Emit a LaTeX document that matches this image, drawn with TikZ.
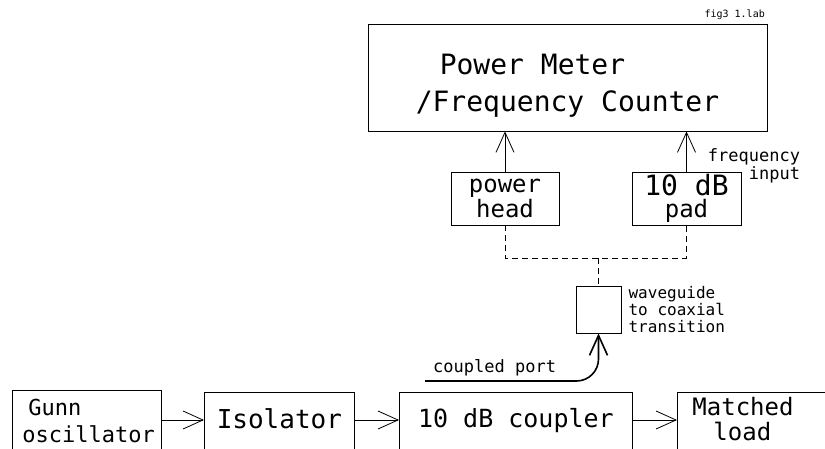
\documentclass[tikz,border=0pt]{standalone}
\usepackage{fontspec}
\setmainfont{DejaVu Sans Mono}
\usetikzlibrary{arrows.meta, positioning}
\newcommand{\sz}[2]{\fontsize{#1}{#2}\selectfont}
\newcommand{\deep}{\rule[-40pt]{0pt}{40pt}}
\tikzset{
  unit/.style={draw, line width=0.8pt, inner sep=0pt, align=center},
  arr/.style={line width=0.8pt, -{Straight Barb[length=20pt, width=18pt]}},
  coax/.style={line width=0.8pt, dash pattern=on 6pt off 4pt},
}

\begin{document}
\begin{tikzpicture}[x=1pt, y=-1pt]
  \useasboundingbox (0,0) rectangle (825,449);

  % measuring instruments
  \node[unit, align=left, minimum width=399pt, minimum height=107pt, font=\sz{28}{37}] (meter) at (567.5,77.5)
    {\rule{0pt}{36pt}\hspace*{24pt}Power Meter\\/Frequency Counter};
  \node[anchor=base east, inner sep=0pt, font=\sz{10}{12}] (figlbl) at (765,18) {fig3 1.lab};
  \node[unit, minimum width=108pt, minimum height=53pt, font=\sz{24}{22}] (head) at (505,198.5) {power\\head};
  \node[unit, minimum width=109pt, minimum height=53pt, font=\sz{24}{22}] (pad) at (686.5,198.5)
    {{\sz{28}{22}10 dB}\\pad};
  \node[align=right, inner sep=0pt, font=\sz{17}{18}] (freqlbl) at (754,166) {frequency\\input};
  \draw[arr] (head.north) -- (meter.south -| head.north);
  \draw[arr] (pad.north) -- (meter.south -| pad.north);

  % transition and coax lines
  \node[unit, minimum width=45pt, minimum height=47pt] (trans) at (598.5,309.5) {};
  \node[right=7pt of trans, align=left, inner sep=0pt, font=\sz{16}{17}] (translbl) {waveguide\\to coaxial\\transition};
  \coordinate (split) at (598.5,258);
  \draw[coax] (head.south) |- (split) -| (pad.south);
  \draw[coax] (split) -- (trans.north);

  \coordinate (portstart) at (425,381);
  \draw[arr, line width=1.6pt, rounded corners=22pt] (portstart) -| (trans.south);
  \node[anchor=base west, inner sep=0pt, font=\sz{17}{20}] (portlbl) at (433,372) {coupled port};

  % waveguide run
  \node[unit, anchor=north west, text width=129pt, align=left, inner xsep=10pt, inner ysep=9pt, font=\sz{22}{27}] (gunn) at (12,390)
    {\hspace*{6pt}Gunn\\oscillator\deep};
  \node[unit, anchor=north west, minimum width=150pt, inner ysep=16pt, font=\sz{26}{30}] (iso) at (204,392) {Isolator\deep};
  \node[unit, anchor=north west, minimum width=233pt, inner ysep=16pt, font=\sz{25}{30}] (coupler) at (399,392) {10 dB coupler\deep};
  \node[unit, anchor=north west, text width=150pt, align=left, inner xsep=15pt, inner ysep=5pt, font=\sz{24}{25}] (load) at (677,392)
    {Matched\\\hspace*{21pt}load\deep};

  \coordinate (row) at (0,420);
  \draw[arr] (gunn.east |- row) -- (iso.west |- row);
  \draw[arr] (iso.east |- row) -- (coupler.west |- row);
  \draw[arr] (coupler.east |- row) -- (load.west |- row);
\end{tikzpicture}
\end{document}
